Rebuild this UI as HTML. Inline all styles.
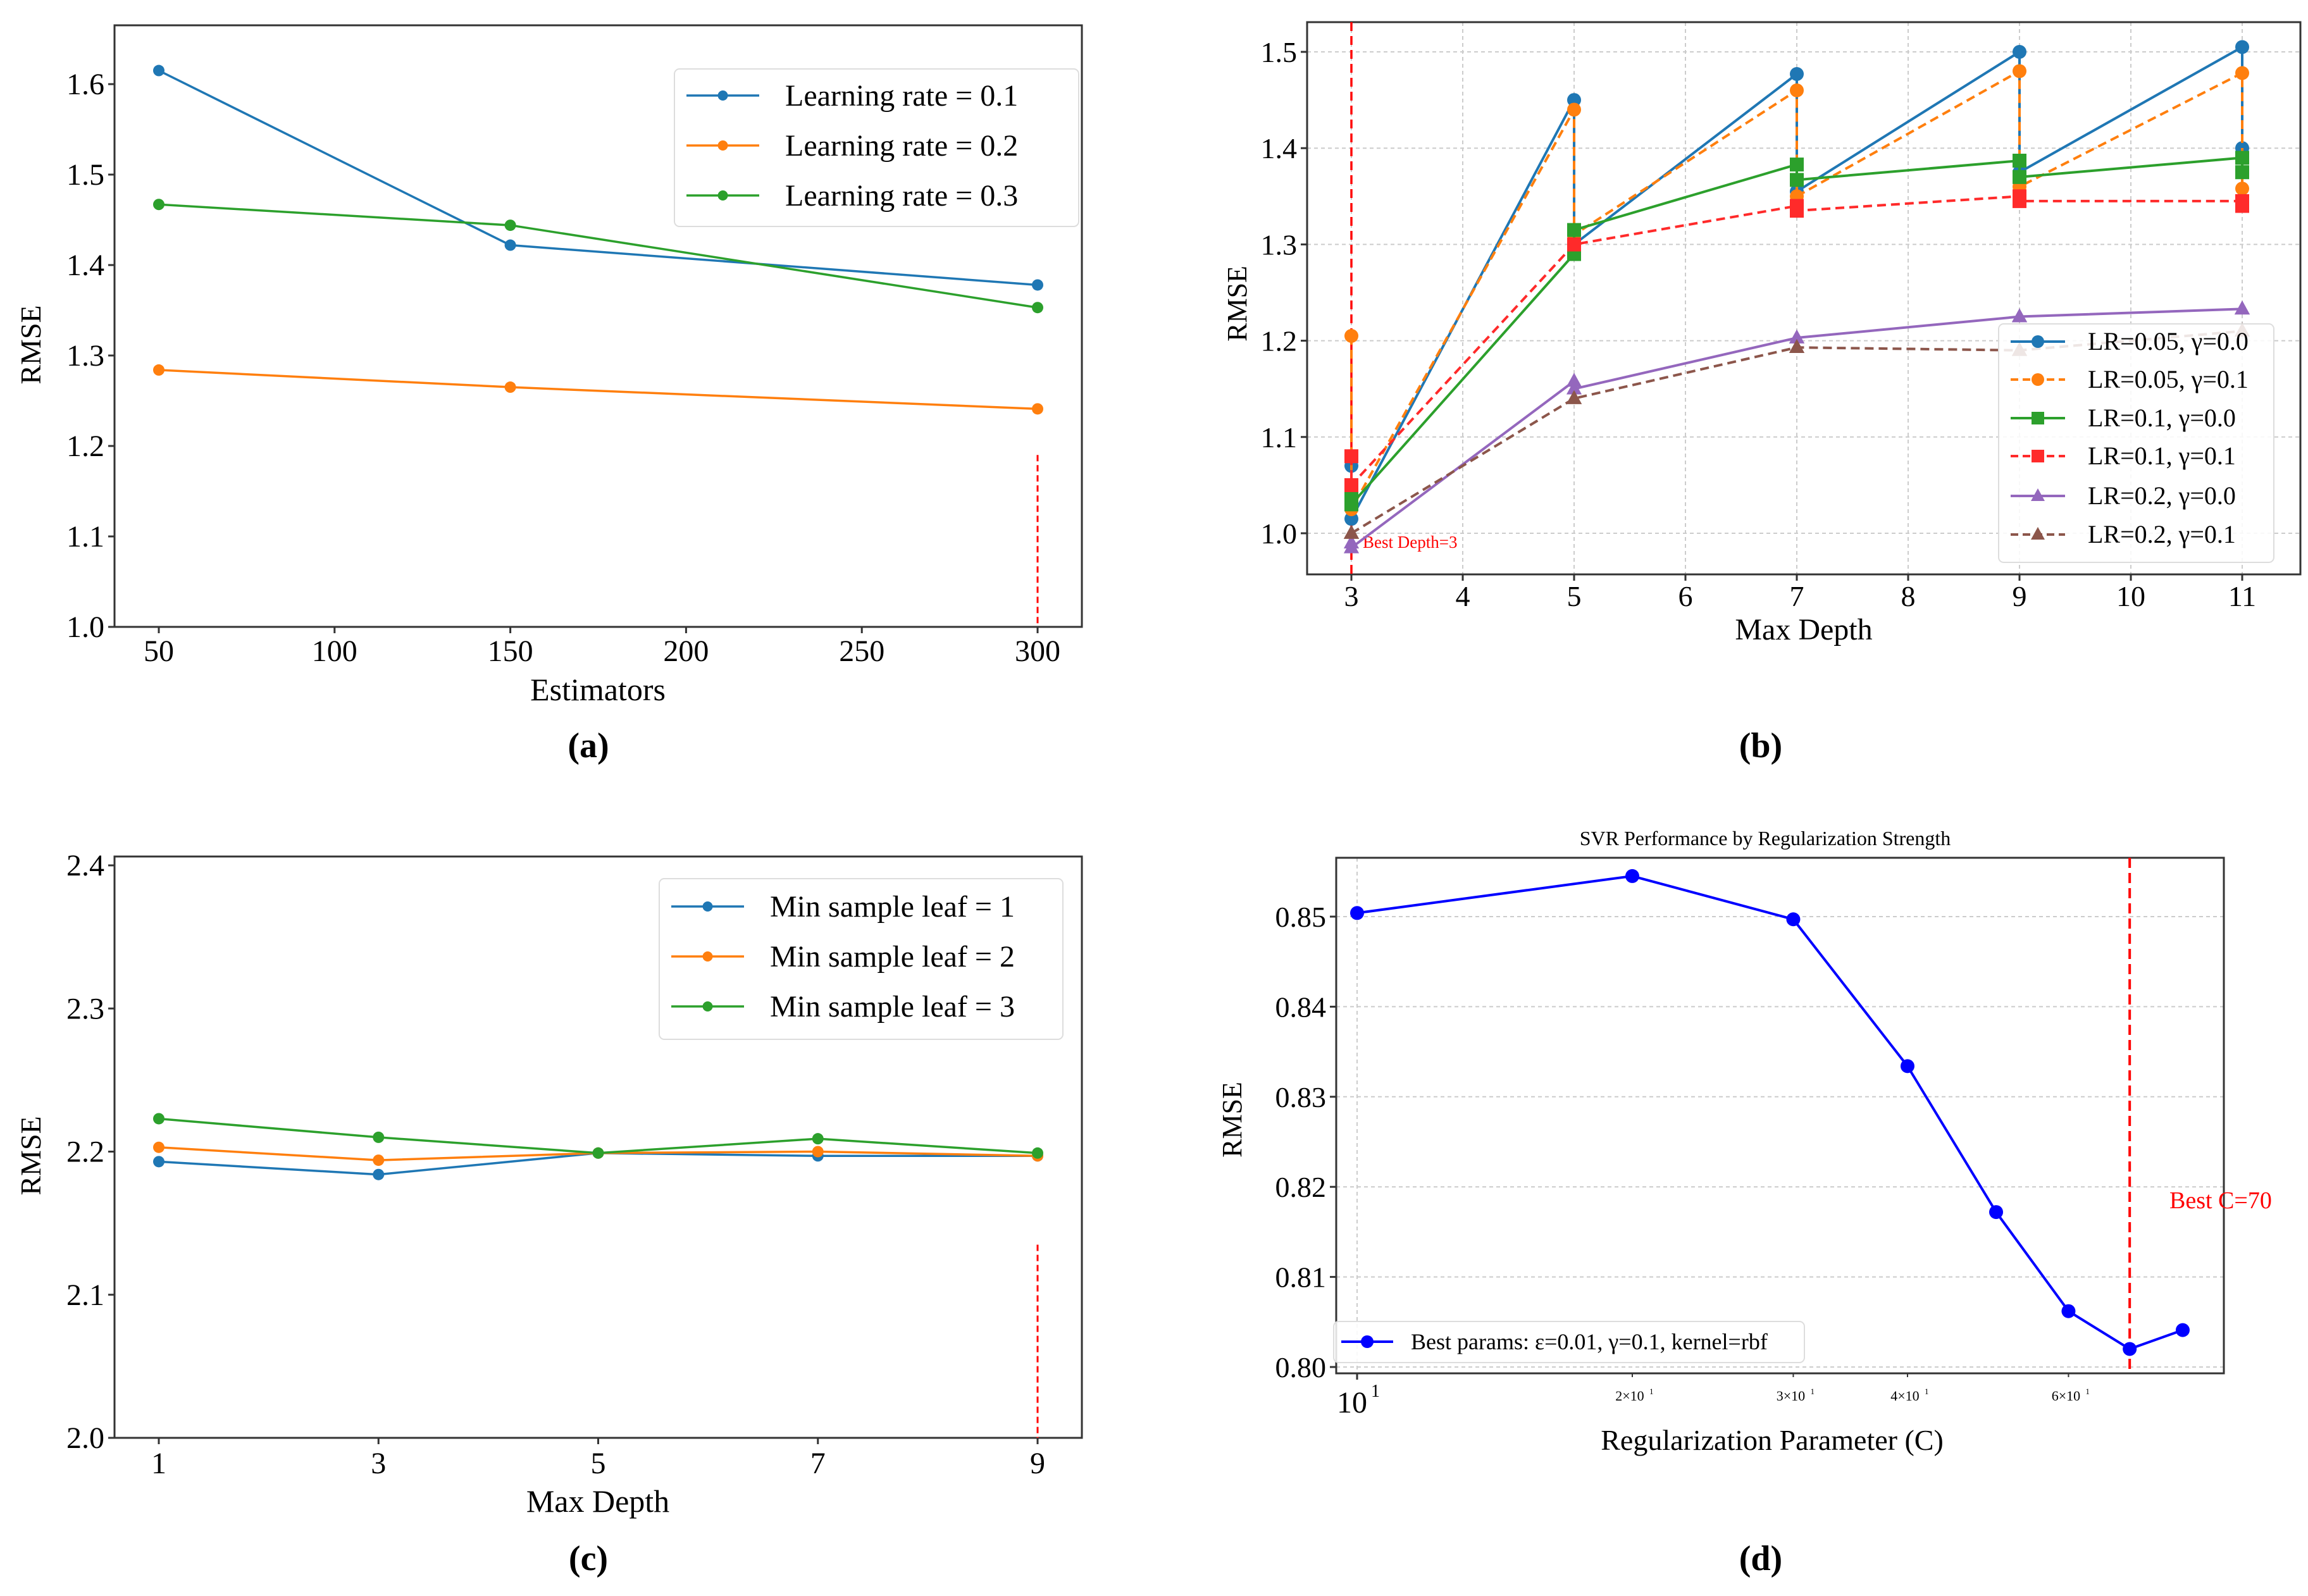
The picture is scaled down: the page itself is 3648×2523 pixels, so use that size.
<!DOCTYPE html>
<html><head><meta charset="utf-8"><style>
html,body{margin:0;padding:0;background:#fff;}
svg{display:block;font-family:"Liberation Serif",serif;}
</style></head><body>
<svg id="fig" width="3648" height="2523" viewBox="0 0 3648 2523" xmlns="http://www.w3.org/2000/svg"></svg>
<script>
// Panel (a)
const aEstimators=[50,150,300];
const aLR01=[1.615,1.422,1.378];
const aLR02=[1.284,1.265,1.241];
const aLR03=[1.467,1.444,1.353];
const aXTicks=[50,100,150,200,250,300];
const aYTicks=[1.0,1.1,1.2,1.3,1.4,1.5,1.6];
const aLegend=["Learning rate = 0.1","Learning rate = 0.2","Learning rate = 0.3"];
// Panel (b)
const bX=[3,3,5,5,7,7,9,9,11,11];
const bLR005g0=[1.07,1.015,1.45,1.30,1.477,1.355,1.50,1.375,1.505,1.40];
const bLR005g1=[1.205,1.025,1.44,1.31,1.46,1.35,1.48,1.36,1.478,1.358];
const bLR01g0=[1.04,1.03,1.29,1.315,1.383,1.367,1.387,1.37,1.39,1.375];
const bLR01g1=[1.08,1.05,1.30,1.30,1.34,1.335,1.35,1.345,1.345,1.34];
const bLR02g0=[0.99,0.985,1.158,1.15,1.203,1.203,1.225,1.225,1.233,1.233];
const bLR02g1=[1.0,1.0,1.14,1.14,1.193,1.193,1.19,1.19,1.21,1.21];
const bXTicks=[3,4,5,6,7,8,9,10,11];
const bYTicks=[1.0,1.1,1.2,1.3,1.4,1.5];
const bLegend=["LR=0.05, γ=0.0","LR=0.05, γ=0.1","LR=0.1, γ=0.0","LR=0.1, γ=0.1","LR=0.2, γ=0.0","LR=0.2, γ=0.1"];
// Panel (c)
const cDepth=[1,3,5,7,9];
const cLeaf1=[2.193,2.184,2.199,2.197,2.197];
const cLeaf2=[2.203,2.194,2.199,2.200,2.197];
const cLeaf3=[2.223,2.210,2.199,2.209,2.199];
const cYTicks=[2.0,2.1,2.2,2.3,2.4];
const cLegend=["Min sample leaf = 1","Min sample leaf = 2","Min sample leaf = 3"];
// Panel (d)
const dC=[10,20,30,40,50,60,70,80];
const dRMSE=[0.8504,0.8545,0.8497,0.8334,0.8172,0.8062,0.8020,0.8041];
const dYTicks=[0.80,0.81,0.82,0.83,0.84,0.85];
const dMinorTicks=[20,30,40,60];
const dMinorLabels=["2×10","3×10","4×10","6×10"];
const dBestC=70;

const NS="http://www.w3.org/2000/svg";
const svg=document.getElementById('fig');
function mk(tag,attrs,parent){const e=document.createElementNS(NS,tag);for(const k in attrs)e.setAttribute(k,attrs[k]);(parent||svg).appendChild(e);return e;}
function txt(s,x,y,size,attrs,parent){const t=mk('text',Object.assign({x:x,y:y,'font-size':size,fill:'#000'},attrs||{}),parent);t.textContent=s;return t;}
function lin(d0,d1,r0,r1){return v=>r0+(v-d0)*(r1-r0)/(d1-d0);}
function marker(g,shape,x,y,r,color){
  let e;
  if(shape==='o')e=mk('circle',{cx:x,cy:y,r:r,fill:color},g);
  else if(shape==='s')e=mk('rect',{x:x-r,y:y-r,width:2*r,height:2*r,fill:color},g);
  else e=mk('polygon',{points:`${x},${y-r*1.2} ${x-r*1.1},${y+r*0.8} ${x+r*1.1},${y+r*0.8}`,fill:color},g);
  return e;
}
function series(g,xs,ys,X,Y,color,dash,shape,r,w,name){
  const s=mk('g',{},g);
  
  
  const pts=xs.map((v,i)=>X(v)+','+Y(ys[i])).join(' ');
  const p=mk('polyline',{points:pts,fill:'none',stroke:color,'stroke-width':w,'stroke-dasharray':dash||'none','stroke-linejoin':'round'},s);
  
  
  xs.forEach((v,i)=>{const m=marker(s,shape,X(v),Y(ys[i]),r,color);
    
    });
}
function frame(g,l,t,r,b){const f=mk('rect',{x:l,y:t,width:r-l,height:b-t,fill:'none',stroke:'#333','stroke-width':3},g);
  
  }
function yTicks(g,ticks,Y,l,fmt,size,grid,r){
  ticks.forEach(v=>{const y=Y(v);
    if(grid){const gl=mk('line',{x1:l,x2:r,y1:y,y2:y,stroke:'#ccc','stroke-width':2,'stroke-dasharray':'6,5'},g);
      
      }
    mk('line',{x1:l-10,x2:l,y1:y,y2:y,stroke:'#333','stroke-width':3},g);
    const t=txt(fmt(v),l-16,y+16,size,{'text-anchor':'end'},g);
    
    });
}
function xTicks(g,ticks,X,b,labels,size,grid,t0,ly){
  ticks.forEach((v,i)=>{const x=X(v);
    if(grid){const gl=mk('line',{x1:x,x2:x,y1:t0,y2:b,stroke:'#ccc','stroke-width':2,'stroke-dasharray':'6,5'},g);
      
      }
    mk('line',{x1:x,x2:x,y1:b,y2:b+10,stroke:'#333','stroke-width':3},g);
    const t=txt(labels?labels[i]:String(v),x,ly,size,{'text-anchor':'middle'},g);
    
    });
}
function legend(g,x,y,w,h,rows,rowY,entries,size,lineX0,lineX1,textX){
  const lg=mk('g',{},g);
  
  
  mk('rect',{x:x,y:y,width:w,height:h,rx:8,fill:'#fff','fill-opacity':0.85,stroke:'#ddd','stroke-width':2},lg);
  entries.forEach((e,i)=>{const yy=rowY[i];
    const en=mk('g',{},lg);
    
    
    mk('line',{x1:lineX0,x2:lineX1,y1:yy,y2:yy,stroke:e.color,'stroke-width':e.w,'stroke-dasharray':e.dash||'none'},en);
    marker(en,e.shape,(lineX0+lineX1)/2,yy,e.r,e.color);
    txt(e.label,textX,yy+size*0.33,size,{},en);});
}
const C1='#1f77b4',C2='#ff7f0e',C3='#2ca02c',CR='#ff2a2a',CP='#9467bd',CB='#8c564b';

// ---------- Panel A ----------
(function(){
  const g=mk('g',{});
  const l=181,r=1710,t=40,b=991;
  const X=lin(50,300,251,1640),Y=lin(1.0,1.6,991,133);
  frame(g,l,t,r,b);
  yTicks(g,aYTicks,Y,l,v=>v.toFixed(1),48);
  xTicks(g,aXTicks,X,b,null,48,false,0,1045);
  const rl=mk('line',{x1:X(300),x2:X(300),y1:Y(1.19),y2:b,stroke:'#ff0000','stroke-width':3,'stroke-dasharray':'10,6'},g);
  
  
  series(g,aEstimators,aLR01,X,Y,C1,null,'o',9,3.5,'series-lr-0-1');
  series(g,aEstimators,aLR02,X,Y,C2,null,'o',9,3.5,'series-lr-0-2');
  series(g,aEstimators,aLR03,X,Y,C3,null,'o',9,3.5,'series-lr-0-3');
  legend(g,1066,109,639,249,3,[151,230,309],aLegend.map((s,i)=>({label:s,color:[C1,C2,C3][i],shape:'o',r:8,w:3.5})),48,1085,1200,1241);
  const xl=txt('Estimators',945,1107,50,{'text-anchor':'middle'},g);
  const yl=txt('RMSE',0,0,46,{'text-anchor':'middle',transform:'translate(64,545) rotate(-90)'},g);
  const cap=txt('(a)',930,1197,56,{'text-anchor':'middle','font-weight':'bold'},g);
})();

// ---------- Panel B ----------
(function(){
  const g=mk('g',{});
  const l=2066,r=3636,t=35,b=908;
  const X=lin(3,11,2136,3544),Y=lin(1.0,1.5,843,82);
  yTicks(g,bYTicks,Y,l,v=>v.toFixed(1),46,true,r);
  xTicks(g,bXTicks,X,b,null,46,true,t,958);
  frame(g,l,t,r,b);
  const rl=mk('line',{x1:X(3),x2:X(3),y1:t,y2:b,stroke:'#ff0000','stroke-width':3.5,'stroke-dasharray':'14,8'},g);
  
  
  const bt=txt('Best Depth=3',2154,866,27,{fill:'#ff0000'},g);
  series(g,bX,bLR005g0,X,Y,C1,null,'o',11,4,'series-lr-0-05-g-0-0');
  series(g,bX,bLR005g1,X,Y,C2,'14,8','o',11,4,'series-lr-0-05-g-0-1');
  series(g,bX,bLR01g0,X,Y,C3,null,'s',11,4,'series-lr-0-1-g-0-0');
  series(g,bX,bLR01g1,X,Y,CR,'14,8','s',11,4,'series-lr-0-1-g-0-1');
  series(g,bX,bLR02g0,X,Y,CP,null,'t',11,4,'series-lr-0-2-g-0-0');
  series(g,bX,bLR02g1,X,Y,CB,'14,8','t',11,4,'series-lr-0-2-g-0-1');
  const cols=[C1,C2,C3,CR,CP,CB],sh=['o','o','s','s','t','t'],ds=[null,'12,7',null,'12,7',null,'12,7'];
  legend(g,3159,512,435,377,6,[540,600,661,721,784,845],bLegend.map((s,i)=>({label:s,color:cols[i],shape:sh[i],r:10,w:4,dash:ds[i]})),40,3178,3264,3300);
  const xl=txt('Max Depth',2851,1011,48,{'text-anchor':'middle'},g);
  const yl=txt('RMSE',0,0,44,{'text-anchor':'middle',transform:'translate(1970,480) rotate(-90)'},g);
  const cap=txt('(b)',2783,1197,56,{'text-anchor':'middle','font-weight':'bold'},g);
})();

// ---------- Panel C ----------
(function(){
  const g=mk('g',{});
  const l=181,r=1710,t=1354,b=2273;
  const X=lin(1,9,251,1640),Y=lin(2.0,2.4,2273,1368);
  frame(g,l,t,r,b);
  yTicks(g,cYTicks,Y,l,v=>v.toFixed(1),48);
  xTicks(g,cDepth,X,b,null,48,false,0,2329);
  const rl=mk('line',{x1:X(9),x2:X(9),y1:Y(2.135),y2:b,stroke:'#ff0000','stroke-width':3,'stroke-dasharray':'10,6'},g);
  
  
  series(g,cDepth,cLeaf1,X,Y,C1,null,'o',9,3.5,'series-leaf-1');
  series(g,cDepth,cLeaf2,X,Y,C2,null,'o',9,3.5,'series-leaf-2');
  series(g,cDepth,cLeaf3,X,Y,C3,null,'o',9,3.5,'series-leaf-3');
  legend(g,1042,1389,638,254,3,[1433,1512,1591],cLegend.map((s,i)=>({label:s,color:[C1,C2,C3][i],shape:'o',r:8,w:3.5})),48,1061,1176,1217);
  const xl=txt('Max Depth',945,2390,50,{'text-anchor':'middle'},g);
  const yl=txt('RMSE',0,0,46,{'text-anchor':'middle',transform:'translate(64,1827) rotate(-90)'},g);
  const cap=txt('(c)',930,2482,56,{'text-anchor':'middle','font-weight':'bold'},g);
})();

// ---------- Panel D ----------
(function(){
  const g=mk('g',{});
  const l=2112,r=3515,t=1356,b=2171;
  const X=v=>2145+Math.log10(v/10)*1445,Y=lin(0.80,0.85,2161,1449);
  yTicks(g,dYTicks,Y,l,v=>v.toFixed(2),46,true,r);
  const gl=mk('line',{x1:X(10),x2:X(10),y1:t,y2:b,stroke:'#ccc','stroke-width':2,'stroke-dasharray':'6,5'},g);
  
  
  mk('line',{x1:X(10),x2:X(10),y1:b,y2:b+10,stroke:'#333','stroke-width':3},g);
  const mj=txt('10',X(10)-8,2233,48,{'text-anchor':'middle'},g);
  txt('1',X(10)+22,2208,28,{},g);
  dMinorTicks.forEach((v,i)=>{mk('line',{x1:X(v),x2:X(v),y1:b,y2:b+6,stroke:'#333','stroke-width':2},g);
    const tl=txt(dMinorLabels[i],X(v)-4,2214,22,{'text-anchor':'middle'},g);
    
    
    txt('1',X(v)+27,2204,13,{},g);});
  frame(g,l,t,r,b);
  const rl=mk('line',{x1:X(dBestC),x2:X(dBestC),y1:t,y2:b,stroke:'#ff0000','stroke-width':4,'stroke-dasharray':'16,8'},g);
  
  
  const bt=txt('Best C=70',3429,1910,38,{fill:'#ff0000'},g);
  series(g,dC,dRMSE,X,Y,'#0000ff',null,'o',11,4,'series-svr-rmse');
  legend(g,2108,2089,744,65,1,[2121],[{label:'Best params: ε=0.01, γ=0.1, kernel=rbf',color:'#0000ff',shape:'o',r:10,w:4}],36,2120,2202,2230);
  const ti=txt('SVR Performance by Regularization Strength',2790,1336,32,{'text-anchor':'middle'},g);
  const xl=txt('Regularization Parameter (C)',2801,2292,46,{'text-anchor':'middle'},g);
  const yl=txt('RMSE',0,0,44,{'text-anchor':'middle',transform:'translate(1962,1770) rotate(-90)'},g);
  const cap=txt('(d)',2783,2482,56,{'text-anchor':'middle','font-weight':'bold'},g);
})();
</script>
</body></html>
